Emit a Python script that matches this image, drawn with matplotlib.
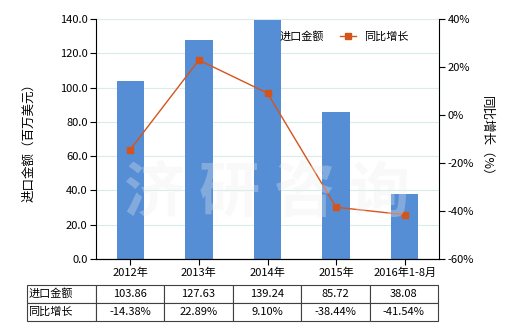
import matplotlib
matplotlib.use('Agg')
import matplotlib.pyplot as plt
import numpy as np

plt.rcParams['font.family'] = ['Noto Sans CJK SC', 'DejaVu Sans']

categories = ['2012年', '2013年', '2014年', '2015年', '2016年1-8月']
import_value = [103.86, 127.63, 139.24, 85.72, 38.08]
yoy_growth = [-14.38, 22.89, 9.10, -38.44, -41.54]
row_labels = ['进口金额', '同比增长']

bar_color = '#558ed5'
line_color = '#d5541c'

fig = plt.figure(figsize=(5.2, 3.3), dpi=100)
ax = fig.add_axes([96 / 520, 71 / 330, 343 / 520, 240 / 330])
x = np.arange(len(categories))

ax.bar(x, import_value, width=0.4, color=bar_color, zorder=2, label='进口金额')
ax.set_xlim(-0.5, len(categories) - 0.5)
ax.set_ylim(0, 140)
ax.set_yticks(np.arange(0, 141, 20))
ax.set_yticklabels([f'{v:.1f}' for v in np.arange(0, 141, 20)], fontsize=8)
ax.set_xticks(x)
ax.set_xticklabels(categories, fontsize=8)
ax.grid(axis='y', color='#d8ecec', linewidth=0.8, zorder=0)
ax.set_axisbelow(True)
ax.spines['top'].set_visible(False)
ax.spines['right'].set_visible(False)
ax.tick_params(axis='both', length=4, width=0.8, pad=2)
ax.set_ylabel('进口金额（百万美元）', fontsize=9, labelpad=18)

ax2 = ax.twinx()
ax2.plot(x, yoy_growth, color=line_color, linewidth=1, marker='s', markersize=4.5,
         zorder=3, label='同比增长')
ax2.set_ylim(-60, 40)
ax2.set_yticks(np.arange(-60, 41, 20))
ax2.set_yticklabels([f'{v}%' for v in np.arange(-60, 41, 20)], fontsize=8)
ax2.spines['top'].set_visible(False)
ax2.spines['left'].set_visible(False)
ax2.tick_params(axis='y', length=4, width=0.8, pad=2)
ax2.set_ylabel('同比增长（%）', fontsize=9, rotation=-90, labelpad=14)

# watermark
ax2.text(0.5, 0.27, '济 研 咨 询', transform=ax.transAxes, ha='center', va='center',
         fontsize=44, color='#eeeeee', alpha=0.3, zorder=5, fontweight='bold')

h1, l1 = ax.get_legend_handles_labels()
h2, l2 = ax2.get_legend_handles_labels()
ax2.legend(h1 + h2, l1 + l2, loc='upper left', bbox_to_anchor=(0.436, 0.99), ncol=2,
           frameon=False, fontsize=8, handlelength=1.4, columnspacing=1.4)

cell_text = [[row_labels[0]] + [f'{v:.2f}' for v in import_value],
             [row_labels[1]] + [f'{v:.2f}%' for v in yoy_growth]]
col_w = [69] + [68.6] * len(categories)
tbl = ax.table(cellText=cell_text, colWidths=[w / sum(col_w) for w in col_w],
               bbox=[(27 - 96) / 343, (259 - 321) / 240, (438 - 27) / 343, 36 / 240],
               cellLoc='center')
tbl.auto_set_font_size(False)
tbl.set_fontsize(8)
for (r, c), cell in tbl.get_celld().items():
    cell.set_edgecolor('#404040')
    cell.set_linewidth(0.8)
    if c == 0:
        cell.get_text().set_ha('left')
        cell.PAD = 0.02

fig.savefig('out.png', dpi=100)
